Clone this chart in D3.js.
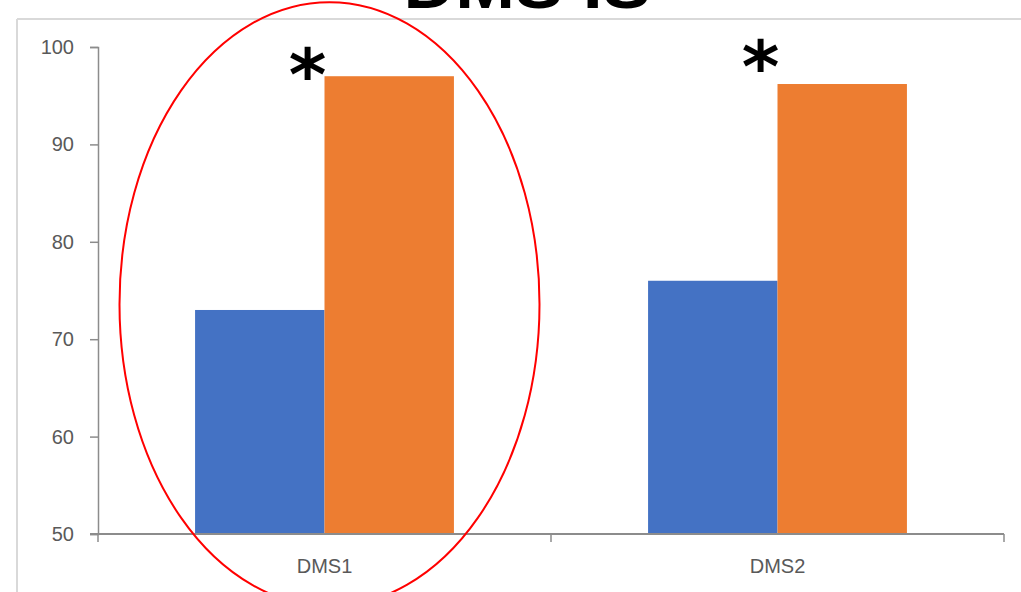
<!DOCTYPE html>
<html>
<head>
<meta charset="utf-8">
<script src="https://cdn.jsdelivr.net/npm/d3@7"></script>
<style>
html,body{margin:0;padding:0;background:#fff;}
svg{display:block;}
</style>
</head>
<body>
<svg id="chart" width="1021" height="592"></svg>
<script>
const categories = ["DMS1", "DMS2"];
const seriesNames = ["Before", "After"];
const beforeValues = [73, 76];
const afterValues = [97, 96.2];
const yTicks = [50, 60, 70, 80, 90, 100];
const starLabels = ["*", "*"];
const starValues = [98.3, 99.1];
const titleText = "DMS IS";

const colors = ["#4472C4", "#ED7D31"];

const svg = d3.select("#chart");
const W = 1021, H = 592;
const margin = {left: 98, right: 17, top: 47, bottom: 58};

// frame
svg.append("line").attr("x1", 17).attr("x2", W).attr("y1", 19).attr("y2", 19)
  .attr("stroke", "#d9d9d9").attr("stroke-width", 2);
svg.append("line").attr("x1", 17).attr("x2", 17).attr("y1", 19).attr("y2", H)
  .attr("stroke", "#d9d9d9").attr("stroke-width", 2);

// title (cut off at top, as in the reference)
svg.append("text").attr("x", 527).attr("y", 8)
  .attr("text-anchor", "middle")
  .attr("font-family", "Liberation Sans, Arial, sans-serif")
  .attr("font-weight", "bold").attr("font-size", 64)
  .attr("textLength", 247).attr("lengthAdjust", "spacingAndGlyphs")
  .attr("fill", "#000").text(titleText);

const x = d3.scaleBand().domain(categories).range([margin.left, W - margin.right]).paddingInner(0).paddingOuter(0);
const x1 = d3.scaleBand().domain(seriesNames).range([0, x.bandwidth()]).paddingInner(0).paddingOuter(0.75);
const y = d3.scaleLinear().domain([50, 100]).range([H - margin.bottom, margin.top]);

const rows = categories.map((c, i) => ({cat: c, vals: [beforeValues[i], afterValues[i]]}));

// bars
const g = svg.append("g");
rows.forEach(r => {
  r.vals.forEach((v, j) => {
    g.append("rect")
      .attr("x", x(r.cat) + x1(seriesNames[j]))
      .attr("y", y(v))
      .attr("width", x1.bandwidth())
      .attr("height", y(50) - y(v))
      .attr("fill", colors[j]);
  });
});

// y axis
const yAxis = d3.axisLeft(y).tickValues(yTicks).tickSize(8).tickPadding(16);
const ya = svg.append("g").attr("transform", `translate(${margin.left},0)`).call(yAxis);
ya.select(".domain").attr("stroke", "#8c8c8c").attr("stroke-width", 1.5);
ya.selectAll(".tick line").attr("stroke", "#8c8c8c").attr("stroke-width", 1.5);
ya.selectAll(".tick text").attr("fill", "#595959")
  .attr("font-family", "Liberation Sans, Arial, sans-serif").attr("font-size", 20);

// x axis
const xa = svg.append("g").attr("transform", `translate(0,${y(50)})`);
xa.append("line").attr("x1", margin.left - 8).attr("x2", W - margin.right).attr("y1", 0).attr("y2", 0)
  .attr("stroke", "#8c8c8c").attr("stroke-width", 2);
const bounds = categories.map(c => x(c)).concat([x(categories[categories.length - 1]) + x.bandwidth()]);
xa.selectAll(".xt").data(bounds).enter().append("line")
  .attr("x1", d => d).attr("x2", d => d).attr("y1", 0).attr("y2", 8)
  .attr("stroke", "#8c8c8c").attr("stroke-width", 1.5);
xa.selectAll(".xl").data(categories).enter().append("text")
  .attr("x", d => x(d) + x.bandwidth() / 2).attr("y", 39)
  .attr("text-anchor", "middle").attr("fill", "#595959")
  .attr("font-family", "Liberation Sans, Arial, sans-serif").attr("font-size", 20)
  .text(d => d);

// asterisks
categories.forEach((c, i) => {
  svg.append("text")
    .attr("x", x(c) + x1(seriesNames[1]) - 17)
    .attr("y", y(starValues[i]) + 36)
    .attr("text-anchor", "middle")
    .attr("font-family", "DejaVu Sans, sans-serif").attr("font-weight", "bold")
    .attr("font-size", 72).attr("fill", "#000")
    .text(starLabels[i]);
});

// red ellipse highlight around DMS1
svg.append("ellipse")
  .attr("cx", x(categories[0]) + x.bandwidth() / 2 + 5)
  .attr("cy", y(73.6))
  .attr("rx", 210).attr("ry", 302)
  .attr("fill", "none").attr("stroke", "#ff0000").attr("stroke-width", 2);
</script>
</body>
</html>
